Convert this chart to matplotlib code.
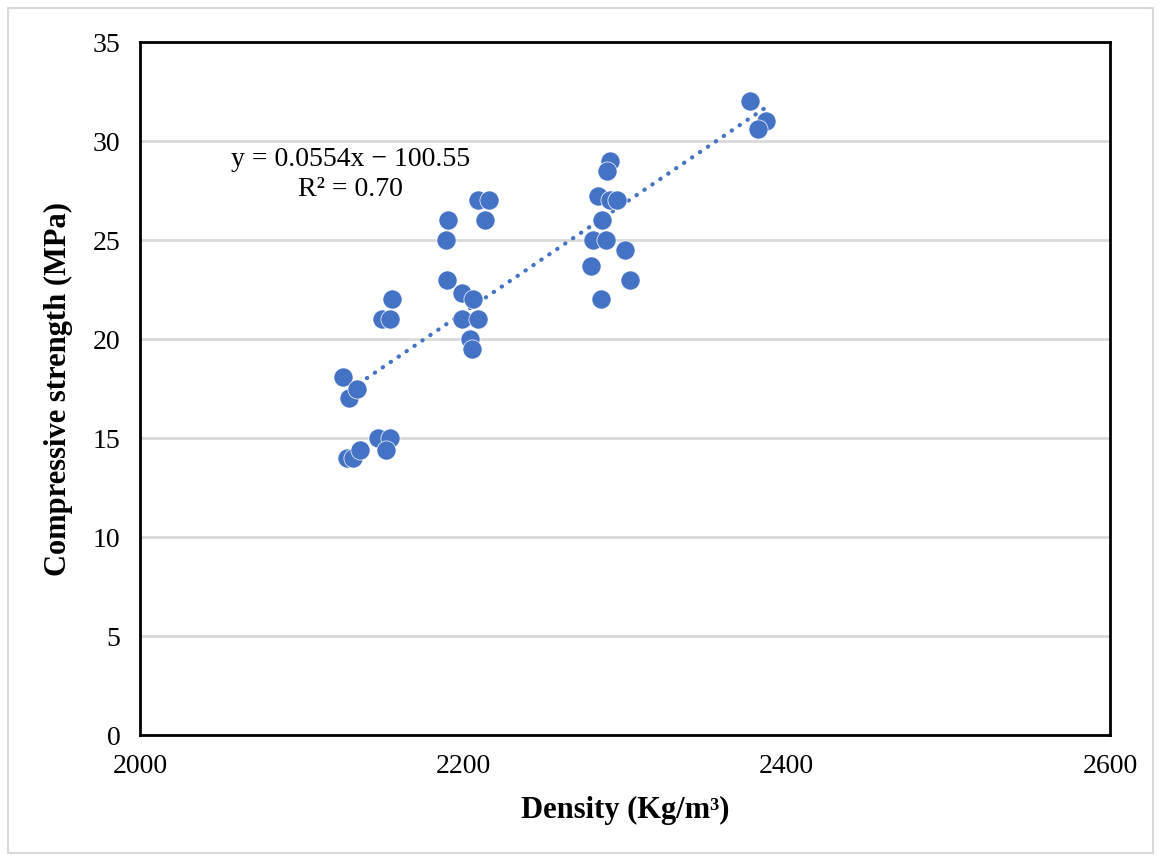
import numpy as np
import matplotlib
matplotlib.use('Agg')
import matplotlib.pyplot as plt
from matplotlib.patches import Rectangle

plt.rcParams['font.family'] = ['Liberation Serif', 'DejaVu Serif']

density = [2125.6, 2129.2, 2134.0, 2127.8, 2131.9, 2136.1, 2147.4, 2154.6, 2151.9,
           2150.0, 2154.6, 2156.0, 2189.0, 2190.6, 2189.6, 2198.9, 2206.0, 2198.9,
           2208.8, 2204.0, 2205.4, 2209.2, 2216.0, 2213.7,
           2377.3, 2387.5, 2382.4, 2291.0, 2289.0, 2283.4, 2290.7, 2294.8, 2286.0,
           2280.0, 2288.2, 2300.0, 2279.0, 2303.0, 2285.0]
strength = [18.1, 17.0, 17.5, 14.0, 14.0, 14.4, 15.0, 15.0, 14.4,
            21.0, 21.0, 22.0, 25.0, 26.0, 23.0, 22.3, 22.0, 21.0,
            21.0, 20.0, 19.5, 27.0, 27.0, 26.0,
            32.0, 31.0, 30.6, 29.0, 28.5, 27.2, 27.0, 27.0, 26.0,
            25.0, 25.0, 24.5, 23.7, 23.0, 22.0]

slope = 0.0554
intercept = -100.55
r2 = 0.70

fig = plt.figure(figsize=(11.61, 8.61), dpi=100)
ax = fig.add_axes([0.1206, 0.1463, 0.8354, 0.8049])

ax.scatter(density, strength, s=190, color='#4472C4', edgecolors='white',
           linewidths=0.5, zorder=3)

xs = np.array([min(density), max(density)])
ax.plot(xs, slope * xs + intercept, color='#4472C4', lw=3,
        linestyle=(0, (0.1, 2.2)), dash_capstyle='round', zorder=2.5)

ax.set_xlim(2000, 2600)
ax.set_ylim(0, 35)
ax.set_xticks([2000, 2200, 2400, 2600])
ax.set_yticks(range(0, 36, 5))
ax.tick_params(length=0, labelsize=20, pad=14)
ax.grid(axis='y', color='#D9D9D9', lw=2)
ax.set_axisbelow(True)
for s in ax.spines.values():
    s.set_linewidth(2)
    s.set_color('black')

ax.set_xlabel('Density (Kg/m\u00b3)', fontsize=22, fontweight='bold', labelpad=12)
ax.set_ylabel('Compressive strength (MPa)', fontsize=22, fontweight='bold', labelpad=14)

ax.text(2130, 28.3, 'y = 0.0554x \u2212 100.55\nR\u00b2 = %.2f' % r2,
        fontsize=20, ha='center', va='center', linespacing=1.25)

fig.patches.append(Rectangle((0.007, 0.009), 0.986, 0.982, transform=fig.transFigure,
                             fill=False, edgecolor='#D9D9D9', lw=1.5))

fig.savefig('out.png', dpi=100)
